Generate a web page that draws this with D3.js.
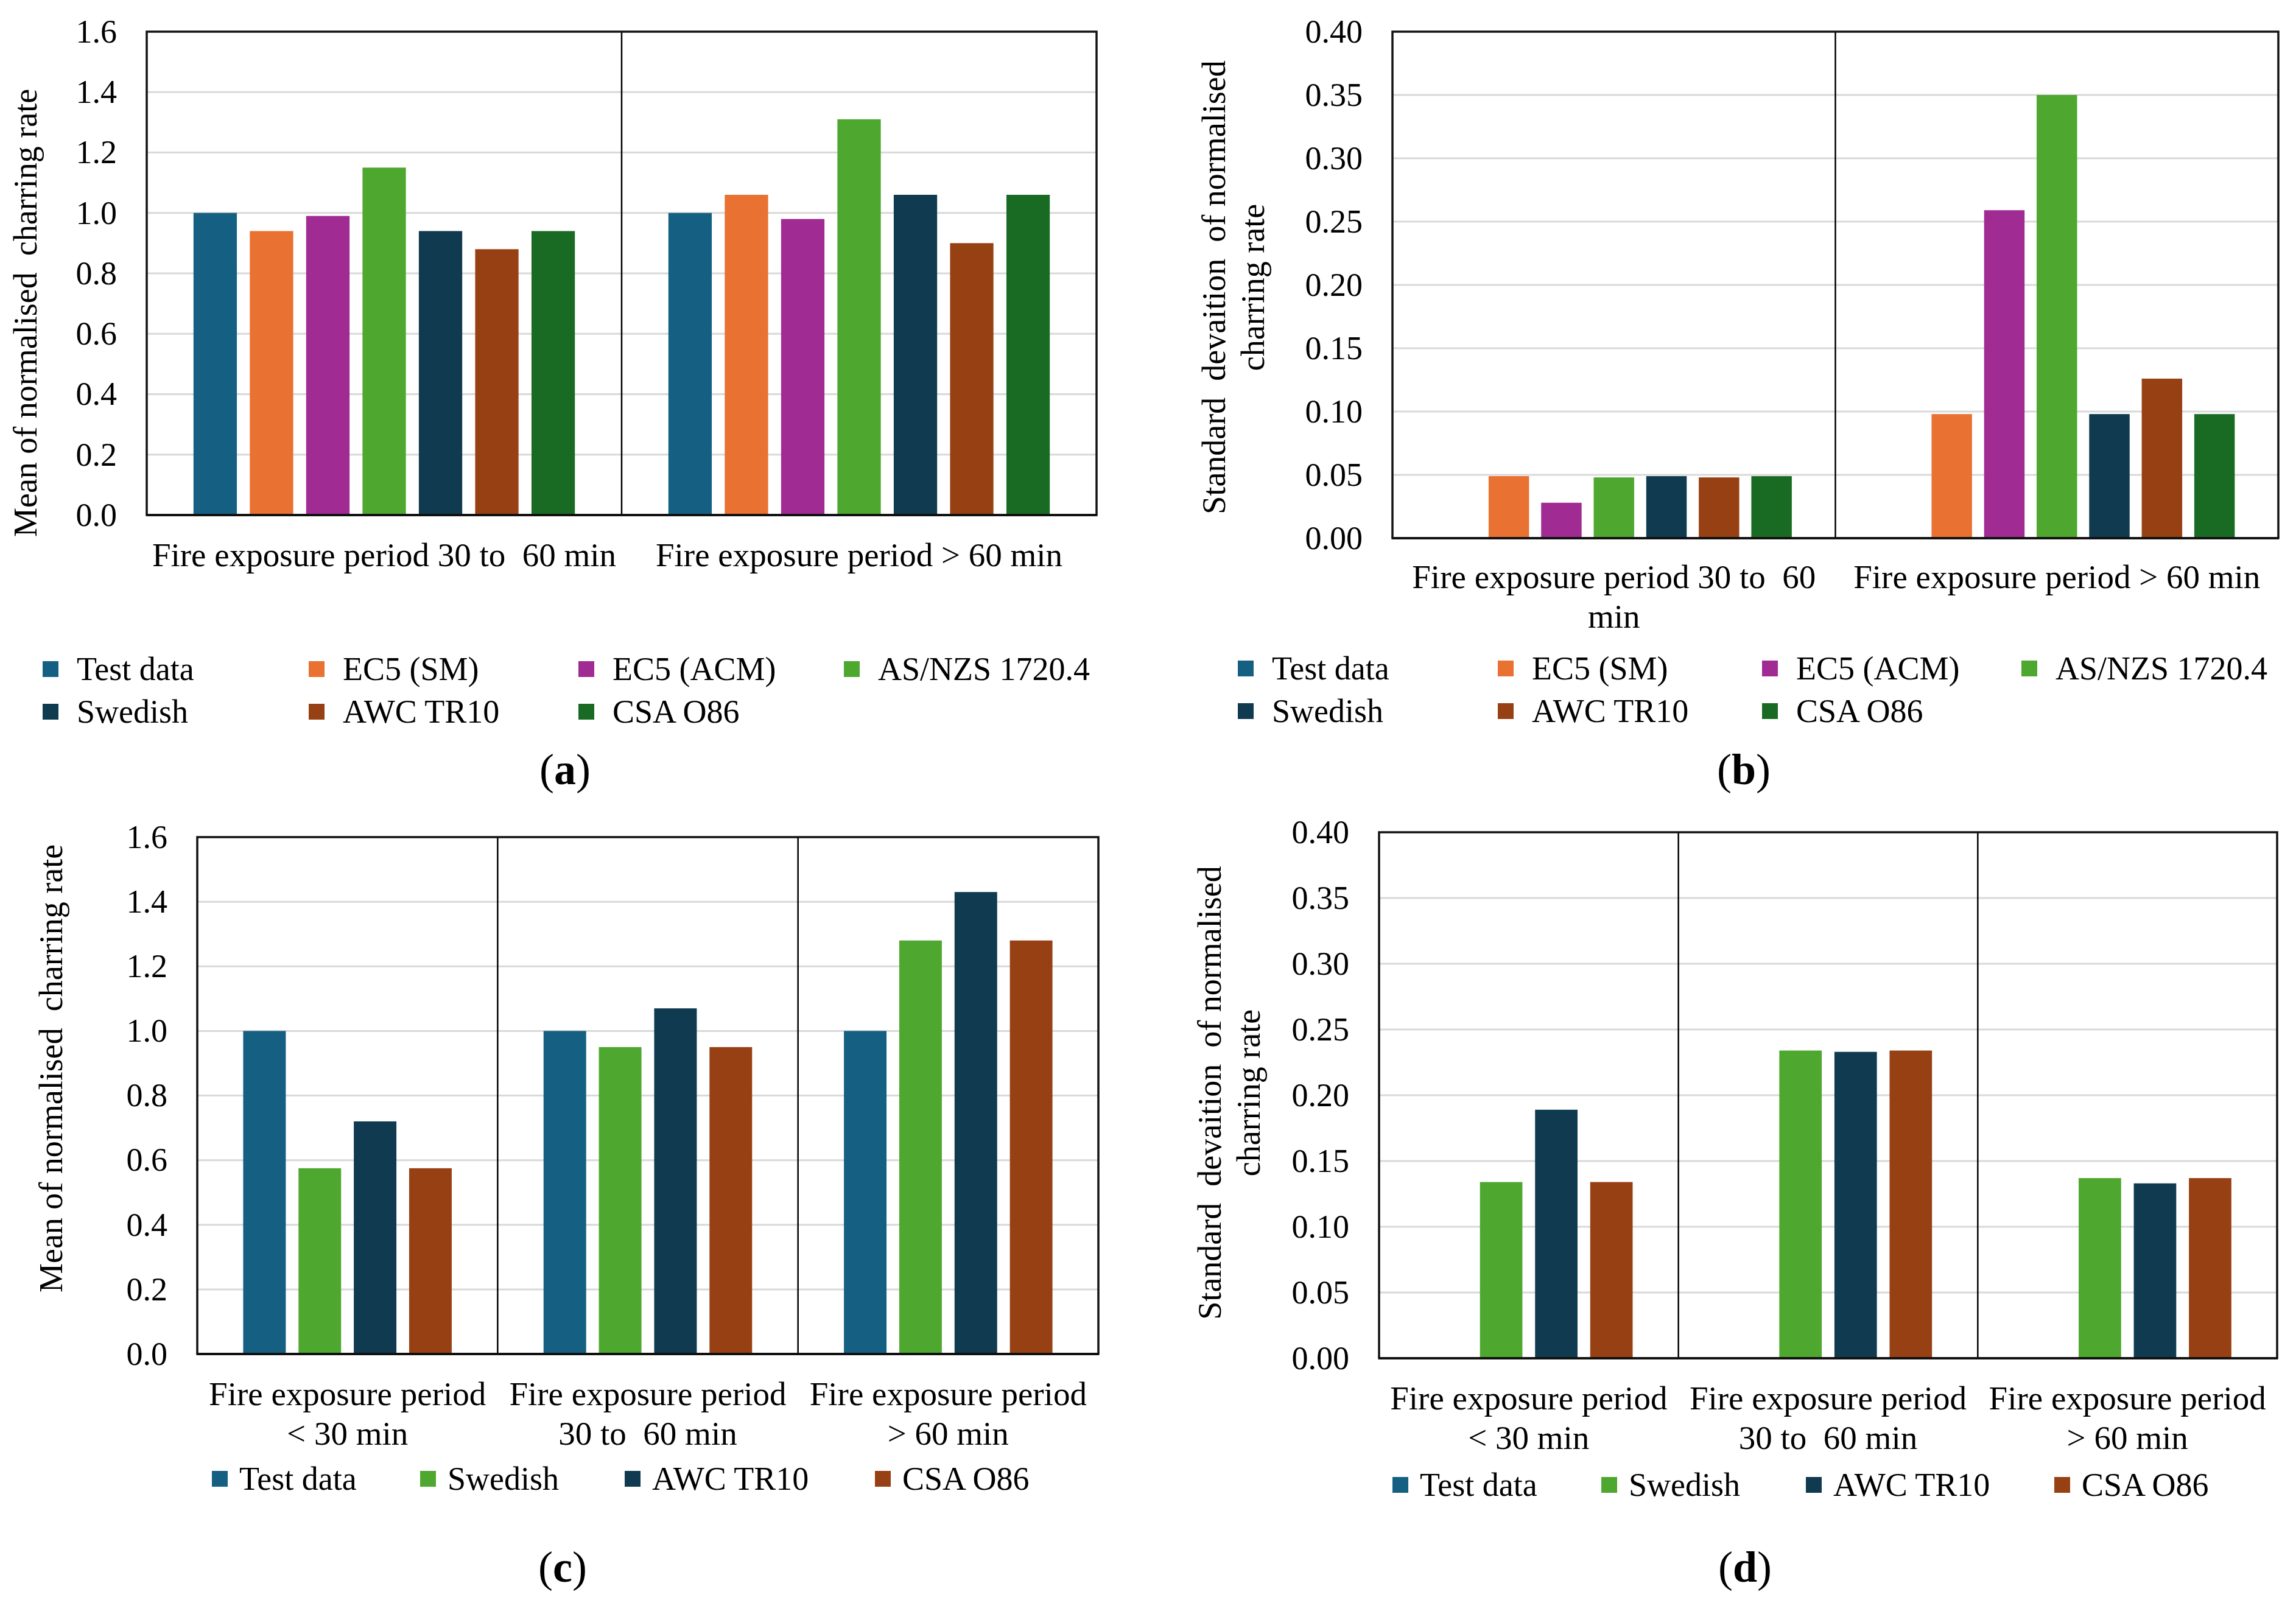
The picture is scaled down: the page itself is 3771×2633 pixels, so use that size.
<!DOCTYPE html>
<html>
<head>
<meta charset="utf-8">
<script src="https://cdn.jsdelivr.net/npm/d3@7"></script>
<style>
  body { margin: 0; background: #fff; }
  text { white-space: pre; }
</style>
</head>
<body>
<div id="chart"></div>
<script>
// ---- data ----
var seriesAB = ["Test data", "EC5 (SM)", "EC5 (ACM)", "AS/NZS 1720.4", "Swedish", "AWC TR10", "CSA O86"];
var colorsAB = ["#156082", "#E97132", "#A02B93", "#4EA72E", "#0F3A4F", "#974013", "#196B24"];
var groupsA = [["Fire exposure period 30 to  60 min"], ["Fire exposure period > 60 min"]];
var groupsB = [["Fire exposure period 30 to  60", "min"], ["Fire exposure period > 60 min"]];
var meanA = [
  [1.00, 0.94, 0.99, 1.15, 0.94, 0.88, 0.94],
  [1.00, 1.06, 0.98, 1.31, 1.06, 0.90, 1.06]
];
var sdB = [
  [0, 0.049, 0.028, 0.048, 0.049, 0.048, 0.049],
  [0, 0.098, 0.259, 0.350, 0.098, 0.126, 0.098]
];

var seriesCD = ["Test data", "Swedish", "AWC TR10", "CSA O86"];
var colorsCD = ["#156082", "#4EA72E", "#0F3A4F", "#974013"];
var groupsCD = [
  ["Fire exposure period", "< 30 min"],
  ["Fire exposure period", "30 to  60 min"],
  ["Fire exposure period", "> 60 min"]
];
var meanC = [
  [1.00, 0.575, 0.72, 0.575],
  [1.00, 0.95, 1.07, 0.95],
  [1.00, 1.28, 1.43, 1.28]
];
var sdD = [
  [0, 0.134, 0.189, 0.134],
  [0, 0.234, 0.233, 0.234],
  [0, 0.137, 0.133, 0.137]
];

var meanTicks = [0, 0.2, 0.4, 0.6, 0.8, 1.0, 1.2, 1.4, 1.6];
var sdTicks = [0, 0.05, 0.10, 0.15, 0.20, 0.25, 0.30, 0.35, 0.40];

// ---- drawing ----
var font = "'Liberation Serif', 'Times New Roman', serif",
    fs = 54;

var svg = d3.select("#chart").append("svg")
    .attr("width", 3771)
    .attr("height", 2633);

function drawPanel(p) {
  var g = svg.append("g");

  var x0 = d3.scaleBand()
      .domain(d3.range(p.groups.length))
      .range([p.left, p.right]);
  var x1 = d3.scaleBand()
      .domain(d3.range(p.series.length))
      .range([0, x0.bandwidth()])
      .paddingInner(0.23)
      .paddingOuter(0.83);
  var y = d3.scaleLinear()
      .domain([0, p.ticks[p.ticks.length - 1]])
      .range([p.bottom, p.top]);

  // gridlines
  g.append("g").selectAll("line")
    .data(p.ticks.slice(1, -1))
    .enter().append("line")
      .attr("x1", p.left).attr("x2", p.right)
      .attr("y1", function(d) { return y(d); })
      .attr("y2", function(d) { return y(d); })
      .attr("stroke", "#d9d9d9")
      .attr("stroke-width", 3);

  // y axis labels
  g.append("g")
      .attr("transform", "translate(" + p.left + ",0)")
      .call(d3.axisLeft(y).tickValues(p.ticks).tickFormat(d3.format(p.fmt)).tickSize(0).tickPadding(49))
      .attr("font-family", font)
      .attr("font-size", fs)
      .call(function(a) { a.select(".domain").remove(); })
      .selectAll("text").attr("fill", "#000");

  // bars
  g.append("g").selectAll("g")
    .data(p.values)
    .enter().append("g")
      .attr("transform", function(d, i) { return "translate(" + x0(i) + ",0)"; })
    .selectAll("rect")
    .data(function(d) { return d; })
    .enter().append("rect")
      .attr("x", function(d, j) { return x1(j); })
      .attr("width", x1.bandwidth())
      .attr("y", function(d) { return y(d); })
      .attr("height", function(d) { return p.bottom - y(d); })
      .attr("fill", function(d, j) { return p.colors[j]; });

  // dividers between categories
  g.append("g").selectAll("line")
    .data(d3.range(1, p.groups.length))
    .enter().append("line")
      .attr("x1", function(i) { return x0(i); })
      .attr("x2", function(i) { return x0(i); })
      .attr("y1", p.top).attr("y2", p.bottom)
      .attr("stroke", "#000")
      .attr("stroke-width", 2.5);

  // frame
  g.append("path")
      .attr("d", "M" + p.left + "," + p.bottom + "V" + p.top + "H" + p.right + "V" + p.bottom)
      .attr("fill", "none")
      .attr("stroke", "#111")
      .attr("stroke-width", 3.5);
  g.append("line")
      .attr("x1", p.left - 1.5).attr("x2", p.right + 1.5)
      .attr("y1", p.bottom).attr("y2", p.bottom)
      .attr("stroke", "#111")
      .attr("stroke-width", 4);

  // category labels
  g.append("g").selectAll("text")
    .data(p.groups)
    .enter().append("text")
      .attr("font-family", font)
      .attr("font-size", 55)
      .attr("text-anchor", "middle")
    .selectAll("tspan")
    .data(function(d, i) { return d.map(function(s) { return {s: s, i: i}; }); })
    .enter().append("tspan")
      .attr("x", function(d) { return x0(d.i) + x0.bandwidth() / 2; })
      .attr("y", function(d, k) { return p.labelY + k * 65; })
      .text(function(d) { return d.s; });

  // y axis title
  var t = g.append("text")
      .attr("font-family", font)
      .attr("font-size", fs)
      .attr("text-anchor", "middle")
      .attr("transform", "translate(" + p.titleX + "," + p.titleY + ") rotate(-90)");
  p.title.forEach(function(s, k) {
    t.append("tspan").attr("x", 0).attr("y", k * 64).text(s);
  });

  // legend
  var leg = g.append("g").selectAll("g")
    .data(p.series)
    .enter().append("g")
      .attr("transform", function(d, i) {
        return "translate(" + p.legX[i % p.legCols] + "," + (p.legY + Math.floor(i / p.legCols) * 70) + ")";
      });
  leg.append("rect")
      .attr("x", 0).attr("y", -31)
      .attr("width", 26).attr("height", 26)
      .attr("fill", function(d, i) { return p.colors[i]; });
  leg.append("text")
      .attr("x", p.legGap).attr("y", 0)
      .attr("font-family", font)
      .attr("font-size", fs)
      .text(function(d) { return d; });

  // caption
  var c = g.append("text")
      .attr("x", p.capX).attr("y", p.capY)
      .attr("font-family", font)
      .attr("font-size", 72)
      .attr("text-anchor", "middle");
  c.append("tspan").text("(");
  c.append("tspan").attr("font-weight", "bold").text(p.cap);
  c.append("tspan").text(")");
}

drawPanel({
  left: 241, right: 1801, top: 52, bottom: 846,
  ticks: meanTicks, fmt: ".1f",
  groups: groupsA, series: seriesAB, colors: colorsAB, values: meanA,
  labelY: 930,
  title: ["Mean of normalised  charring rate"], titleX: 60, titleY: 514,
  legX: [70, 507, 950, 1386], legCols: 4, legY: 1117, legGap: 56,
  cap: "a", capX: 928, capY: 1288
});

drawPanel({
  left: 2287, right: 3742, top: 52, bottom: 884,
  ticks: sdTicks, fmt: ".2f",
  groups: groupsB, series: seriesAB, colors: colorsAB, values: sdB,
  labelY: 966,
  title: ["Standard  devaition  of normalised", "charring rate"], titleX: 2012, titleY: 472,
  legX: [2033, 2460, 2894, 3320], legCols: 4, legY: 1116, legGap: 56,
  cap: "b", capX: 2864, capY: 1288
});

drawPanel({
  left: 324, right: 1804, top: 1375, bottom: 2224,
  ticks: meanTicks, fmt: ".1f",
  groups: groupsCD, series: seriesCD, colors: colorsCD, values: meanC,
  labelY: 2308,
  title: ["Mean of normalised  charring rate"], titleX: 102, titleY: 1755,
  legX: [348, 690, 1026, 1437], legCols: 4, legY: 2447, legGap: 45,
  cap: "c", capX: 924, capY: 2598
});

drawPanel({
  left: 2265, right: 3740, top: 1367, bottom: 2231,
  ticks: sdTicks, fmt: ".2f",
  groups: groupsCD, series: seriesCD, colors: colorsCD, values: sdD,
  labelY: 2315,
  title: ["Standard  devaition  of normalised", "charring rate"], titleX: 2005, titleY: 1795,
  legX: [2287, 2630, 2966, 3374], legCols: 4, legY: 2457, legGap: 45,
  cap: "d", capX: 2866, capY: 2598
});
</script>
</body>
</html>
